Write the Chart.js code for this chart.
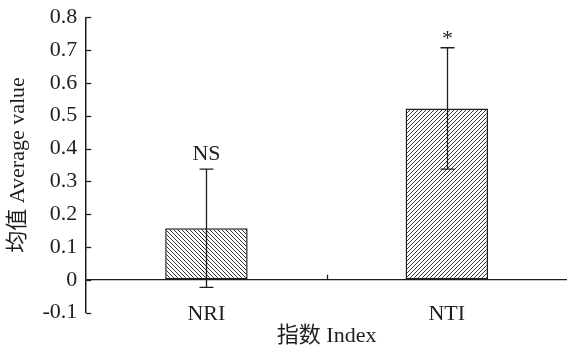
<!DOCTYPE html>
<html>
<head>
<meta charset="utf-8">
<script src="https://cdn.jsdelivr.net/npm/chart.js@4/dist/chart.umd.min.js"></script>
<style>
  html, body { margin: 0; padding: 0; background: #ffffff; overflow: hidden; }
  #wrap { width: 567px; height: 349px; }
</style>
</head>
<body>
<div id="wrap"><canvas id="c" width="567" height="349"></canvas></div>
<script>
const categories = ['NRI', 'NTI'];
const meanValues = [0.157, 0.522];
const errorValues = [0.180, 0.185];
const markLabels = ['NS', '*'];
const yMin = -0.1;
const yMax = 0.8;
const yStep = 0.1;
const xTitle = '指数 Index';
const yTitle = '均值 Average value';

const FONT = '"Liberation Serif", "Times New Roman", "Noto Sans CJK SC", serif';
const INK = '#1e1e1e';

function makeHatch(dir) {
  const s = 4;
  const c = document.createElement('canvas');
  c.width = s; c.height = s;
  const g = c.getContext('2d');
  g.fillStyle = '#ffffff';
  g.fillRect(0, 0, s, s);
  g.strokeStyle = '#333333';
  g.lineWidth = 1;
  g.beginPath();
  for (let o = -s; o <= s; o += s) {
    if (dir === 'back') { g.moveTo(o, 0); g.lineTo(o + s, s); }
    else { g.moveTo(o, s); g.lineTo(o + s, 0); }
  }
  g.stroke();
  return document.getElementById('c').getContext('2d').createPattern(c, 'repeat');
}

const fills = [makeHatch('back'), makeHatch('fwd')];

const decorPlugin = {
  id: 'decor',
  afterDatasetsDraw(chart) {
    const { ctx, chartArea, scales: { x, y } } = chart;
    ctx.save();
    ctx.strokeStyle = INK;
    ctx.lineWidth = 1.3;
    // inward y ticks
    y.ticks.forEach(t => {
      const py = Math.round(y.getPixelForValue(t.value)) + 0.5;
      ctx.beginPath();
      ctx.moveTo(chartArea.left, py);
      ctx.lineTo(chartArea.left + 5, py);
      ctx.stroke();
    });
    // category divider tick on zero line
    const y0 = y.getPixelForValue(0);
    for (let i = 0; i < categories.length - 1; i++) {
      const mx = Math.round((x.getPixelForTick(i) + x.getPixelForTick(i + 1)) / 2) + 0.5;
      ctx.beginPath();
      ctx.moveTo(mx, y0);
      ctx.lineTo(mx, y0 - 5);
      ctx.stroke();
    }
    // error bars and marks
    const meta = chart.getDatasetMeta(0);
    meta.data.forEach((bar, i) => {
      const cx = Math.round(bar.x) + 0.5;
      const top = y.getPixelForValue(meanValues[i] + errorValues[i]);
      const bot = y.getPixelForValue(meanValues[i] - errorValues[i]);
      ctx.beginPath();
      ctx.moveTo(cx, top); ctx.lineTo(cx, bot);
      ctx.moveTo(cx - 7, top); ctx.lineTo(cx + 7, top);
      ctx.moveTo(cx - 7, bot); ctx.lineTo(cx + 7, bot);
      ctx.stroke();
      ctx.fillStyle = INK;
      ctx.font = '22px ' + FONT;
      ctx.textAlign = 'center';
      ctx.textBaseline = 'alphabetic';
      const m = ctx.measureText(markLabels[i]);
      const glyphBottom = -(m.actualBoundingBoxDescent || 0);
      ctx.fillText(markLabels[i], cx, top - 9 + glyphBottom);
    });
    ctx.restore();
  }
};

new Chart(document.getElementById('c'), {
  type: 'bar',
  data: {
    labels: categories,
    datasets: [{
      data: meanValues,
      xAxisID: 'x',
      yAxisID: 'y',
      backgroundColor: fills,
      borderColor: INK,
      borderWidth: 1.5,
      borderSkipped: false,
      barPercentage: 0.343,
      categoryPercentage: 1.0
    }]
  },
  options: {
    responsive: false,
    animation: false,
    devicePixelRatio: 1,
    layout: { padding: { top: 1, right: 0, bottom: 0, left: 5 } },
    plugins: { legend: { display: false }, tooltip: { enabled: false } },
    scales: {
      x: {
        position: { y: 0 },
        offset: true,
        grid: { display: false, drawTicks: false },
        border: { display: false },
        ticks: { color: INK, font: { family: FONT, size: 22 }, padding: 21 }
      },
      xTitleAxis: {
        type: 'category',
        axis: 'x',
        position: 'bottom',
        offset: true,
        grid: { display: false, drawTicks: false },
        border: { display: false },
        ticks: { display: false },
        title: { display: true, text: xTitle, color: INK, font: { family: FONT, size: 22 }, padding: { top: 10, bottom: 0 } }
      },
      y: {
        min: yMin,
        max: yMax,
        ticks: { stepSize: yStep, color: INK, font: { family: FONT, size: 22, lineHeight: 0.75 }, padding: 9 },
        grid: {
          drawTicks: false,
          lineWidth: 1.3,
          color: ctx => (ctx.tick && Math.abs(ctx.tick.value) < 1e-9) ? INK : 'rgba(0,0,0,0)'
        },
        border: { display: true, color: INK, width: 1.5 },
        title: { display: true, text: yTitle, color: INK, font: { family: FONT, size: 22 }, padding: { top: 0, bottom: 2 } }
      }
    }
  },
  plugins: [decorPlugin]
});
</script>
</body>
</html>
